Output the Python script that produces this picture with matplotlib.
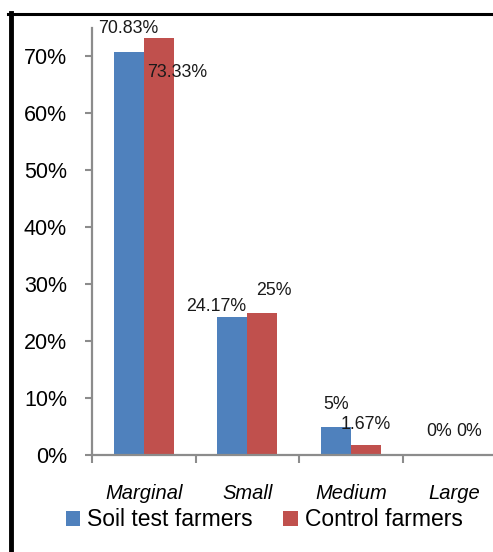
import matplotlib
matplotlib.use("Agg")
import matplotlib.pyplot as plt
from matplotlib.lines import Line2D
import numpy as np

categories = ["Marginal", "Small", "Medium", "Large"]
soil_test = [70.83, 24.17, 5.0, 0.0]
control = [73.33, 25.0, 1.67, 0.0]
soil_labels = ["70.83%", "24.17%", "5%", "0%"]
control_labels = ["73.33%", "25%", "1.67%", "0%"]
series_names = ["Soil test farmers", "Control farmers"]
yticks = [0, 10, 20, 30, 40, 50, 60, 70]

FONT = ["Liberation Sans", "DejaVu Sans"]
plt.rcParams["font.family"] = FONT

BLUE = "#4F81BD"
RED = "#C0504D"
AXC = "#8C8C8C"

fig = plt.figure(figsize=(4.93, 5.52), dpi=100)
ax = fig.add_axes([92/493, 97/552, 414/493, 427/552])

x = np.arange(len(categories))
w = 0.29
b1 = ax.bar(x - w/2, soil_test, w, color=BLUE, label=series_names[0])
b2 = ax.bar(x + w/2, control, w, color=RED, label=series_names[1])

ax.set_xlim(-0.5, 3.5)
ax.set_ylim(0, 75)

# label offsets in pixels (dx, dy)
soil_off = [(0, 23), (-16, 11), (0, 22), (0, 23)]
ctrl_off = [(18, -35), (12, 22), (0, 21), (0, 23)]
px = 72/100
for i in range(len(categories)):
    ax.annotate(soil_labels[i], (x[i] - w/2, soil_test[i]),
                xytext=(soil_off[i][0]*px, soil_off[i][1]*px), textcoords="offset points",
                ha="center", va="center", fontsize=12.8, color="#1a1a1a")
    ax.annotate(control_labels[i], (x[i] + w/2, control[i]),
                xytext=(ctrl_off[i][0]*px, ctrl_off[i][1]*px), textcoords="offset points",
                ha="center", va="center", fontsize=12.8, color="#1a1a1a")

ax.set_yticks(yticks)
ax.set_yticklabels([f"{v}%" for v in yticks], fontsize=15.5)
ax.tick_params(axis="y", length=5, width=1.5, color=AXC, pad=13)

ax.set_xticks(x)
ax.set_xticklabels(categories, fontsize=14.5, style="italic")
ax.tick_params(axis="x", which="major", length=0, pad=21)
ax.set_xticks(np.arange(-0.5, 4.0, 1.0), minor=True)
ax.tick_params(axis="x", which="minor", length=6, width=1.5, color=AXC, direction="out")

for s in ["top", "right"]:
    ax.spines[s].set_visible(False)
for s in ["left", "bottom"]:
    ax.spines[s].set_color(AXC)
    ax.spines[s].set_linewidth(1.6)

fig.legend(handles=[b1, b2], loc="center", bbox_to_anchor=(264/493, 1 - 520/552),
           ncol=2, frameon=False, fontsize=16.5, handlelength=0.65, handleheight=0.65,
           handletextpad=0.3, columnspacing=1.3, borderaxespad=0)

# outer frame lines (top and left)
fig.add_artist(Line2D([8/493, 1], [1 - 14/552, 1 - 14/552], transform=fig.transFigure,
                      color="black", linewidth=2.2))
fig.add_artist(Line2D([10.5/493, 10.5/493], [0, 1 - 13/552], transform=fig.transFigure,
                      color="black", linewidth=3.5))

fig.savefig("out.png", dpi=100)
